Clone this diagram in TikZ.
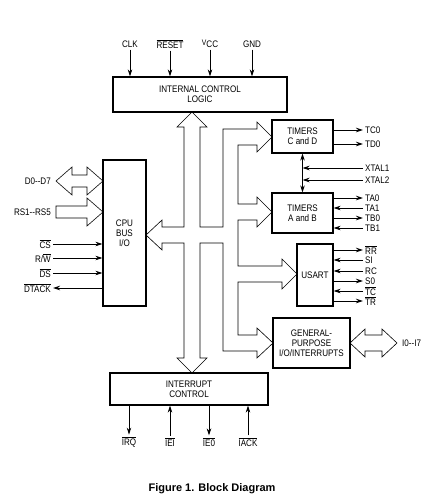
\documentclass[tikz,border=0pt]{standalone}
\usepackage{fontspec}
\setmainfont{Liberation Sans}
\newfontfamily\diagfont{Liberation Sans}[FakeStretch=0.85]
\usetikzlibrary{arrows.meta}
\newcommand{\ovr}[1]{$\overline{\mbox{#1}}$}

\tikzset{
  blk/.style={draw, line width=1.2pt, align=center, inner sep=0pt},
  lbl/.style={inner sep=2pt},
  sig/.style={line width=0.9pt, -{Stealth[length=7pt,width=4.5pt]}},
  bus/.style={line width=0.6pt, line join=miter},
}

\begin{document}
\begin{tikzpicture}[x=1pt, y=-1pt, font=\diagfont\fontsize{9.5}{10}\selectfont]
                \useasboundingbox (0,0) rectangle (432,498);

                % blocks
                \node[blk, minimum width=174pt, minimum height=35pt] (icl) at (200,94.5) {INTERNAL CONTROL\\LOGIC};
                \node[blk, minimum width=43pt, minimum height=146pt] (cpu) at (124.5,233) {CPU\\BUS\\I/O};
                \node[blk, minimum width=61pt, minimum height=33pt] (tcd) at (302.5,136.5) {TIMERS\\C and D};
                \node[blk, minimum width=61pt, minimum height=40pt] (tab) at (302.5,213) {TIMERS\\A and B};
                \node[blk, minimum width=36pt, minimum height=62pt] (usart) at (315,275) {USART};
                \node[blk, minimum width=77pt, minimum height=50pt] (gpio) at (311.5,343) {GENERAL-\\PURPOSE\\I/O/INTERRUPTS};
                \node[blk, minimum width=158pt, minimum height=32pt] (intc) at (189,389) {INTERRUPT\\CONTROL};

                % internal bus
                \draw [bus] (192,112) -- (177,127) -- (184,127) -- (184,227) -- (162,227) -- (162,220)
                    -- (146,235) -- (162,250) -- (162,243) -- (184,243) -- (184,358) -- (177,358)
                    -- (192,373) -- (207,358) -- (200,358) -- (200,243) -- (223,243) -- (223,351)
                    -- (257,351) -- (257,358) -- (273,343) -- (257,328) -- (257,335) -- (238,335)
                    -- (238,282) -- (282,282) -- (282,289) -- (297,274) -- (282,259) -- (282,266)
                    -- (238,266) -- (238,220) -- (257,220) -- (257,227) -- (272,212) -- (257,197)
                    -- (257,204) -- (238,204) -- (238,145) -- (257,145) -- (257,152) -- (272,137)
                    -- (257,122) -- (257,129) -- (223,129) -- (223,227) -- (200,227) -- (200,127)
                    -- (207,127) -- cycle;

                % data and address buses
                \draw [bus] (56,181) -- (72,167) -- (72,175) -- (87,175) -- (87,167) -- (103,181)
                    -- (87,195) -- (87,187) -- (72,187) -- (72,195) -- cycle;
                \draw [bus] (56,206) -- (87,206) -- (87,198) -- (103,212) -- (87,226) -- (87,218)
                    -- (56,218) -- cycle;
                \draw [bus] (350,343) -- (365,329) -- (365,335) -- (382,335) -- (382,329) -- (397,343)
                    -- (382,357) -- (382,351) -- (365,351) -- (365,357) -- cycle;

                \node[lbl, anchor=east] (dbus) at (53,181) {D0--D7};
                \node[lbl, anchor=east] (abus) at (53,212) {RS1--RS5};
                \node[lbl, anchor=west] (iobus) at (400,343) {I0--I7};

                % top inputs
                \node[lbl] (clk) at (130,44) {CLK};
                \node[lbl] (reset) at (170,44) {\ovr{RESET}};
                \node[lbl] (vcc) at (210,44) {\raisebox{1.5pt}{\fontsize{8}{8}\selectfont V}CC};
                \node[lbl] (gnd) at (252,44) {GND};
                \draw [sig] (clk) -- (clk |- icl.north);
                \draw [sig] (reset) -- (reset |- icl.north);
                \draw [sig] (vcc) -- (vcc |- icl.north);
                \draw [sig] (gnd) -- (gnd |- icl.north);

                % cpu control lines
                \node[lbl, anchor=east] (cs) at (53,244) {\ovr{CS}};
                \node[lbl, anchor=east] (rw) at (53,258) {R/\ovr{W}};
                \node[lbl, anchor=east] (ds) at (53,273) {\ovr{DS}};
                \node[lbl, anchor=east] (dtack) at (53,288) {\ovr{DTACK}};
                \draw [sig] (cs.east) -- (cs.east -| cpu.west);
                \draw [sig] (rw.east) -- (rw.east -| cpu.west);
                \draw [sig] (ds.east) -- (ds.east -| cpu.west);
                \draw [sig] (dtack.east -| cpu.west) -- (dtack.east);

                % timers c and d
                \node[lbl, anchor=west] (tc0) at (363,130) {TC0};
                \node[lbl, anchor=west] (td0) at (363,144) {TD0};
                \draw [sig] (tc0.west -| tcd.east) -- (tc0.west);
                \draw [sig] (td0.west -| tcd.east) -- (td0.west);

                % clock inputs
                \draw [line width=0.9pt, {Stealth[length=7pt,width=4.5pt]}-{Stealth[length=7pt,width=4.5pt]}] (tcd.south) -- (tab.north);
                \node[lbl, anchor=west] (xtal1) at (363,168) {XTAL1};
                \node[lbl, anchor=west] (xtal2) at (363,180) {XTAL2};
                \draw [sig] (xtal1.west) -- (xtal1.west -| tcd.south);
                \draw [sig] (xtal2.west) -- (xtal2.west -| tcd.south);

                % timers a and b
                \node[lbl, anchor=west] (ta0) at (363,198) {TA0};
                \node[lbl, anchor=west] (ta1) at (363,208) {TA1};
                \node[lbl, anchor=west] (tb0) at (363,218) {TB0};
                \node[lbl, anchor=west] (tb1) at (363,228) {TB1};
                \draw [sig] (ta0.west -| tab.east) -- (ta0.west);
                \draw [sig] (ta1.west) -- (ta1.west -| tab.east);
                \draw [sig] (tb0.west -| tab.east) -- (tb0.west);
                \draw [sig] (tb1.west) -- (tb1.west -| tab.east);

                % usart
                \node[lbl, anchor=west] (rr) at (363,250) {\ovr{RR}};
                \node[lbl, anchor=west] (si) at (363,260) {SI};
                \node[lbl, anchor=west] (rc) at (363,271) {RC};
                \node[lbl, anchor=west] (so) at (363,281) {S0};
                \node[lbl, anchor=west] (tc) at (363,291) {\ovr{TC}};
                \node[lbl, anchor=west] (tr) at (363,301) {\ovr{TR}};
                \draw [sig] (rr.west -| usart.east) -- (rr.west);
                \draw [sig] (si.west) -- (si.west -| usart.east);
                \draw [sig] (rc.west) -- (rc.west -| usart.east);
                \draw [sig] (so.west -| usart.east) -- (so.west);
                \draw [sig] (tc.west) -- (tc.west -| usart.east);
                \draw [sig] (tr.west -| usart.east) -- (tr.west);

                % interrupt lines
                \node[lbl] (irq) at (129,442) {\ovr{IRQ}};
                \node[lbl] (iei) at (170,442) {\ovr{IEI}};
                \node[lbl] (ieo) at (209,442) {\ovr{IE0}};
                \node[lbl] (iack) at (248,442) {\ovr{IACK}};
                \draw [sig] (irq |- intc.south) -- (irq);
                \draw [sig] (iei) -- (iei |- intc.south);
                \draw [sig] (ieo |- intc.south) -- (ieo);
                \draw [sig] (iack) -- (iack |- intc.south);

                \node[font=\bfseries\fontsize{11}{12}\selectfont] (caption) at (212,489) {Figure 1. Block Diagram};
            \end{tikzpicture}
\end{document}
